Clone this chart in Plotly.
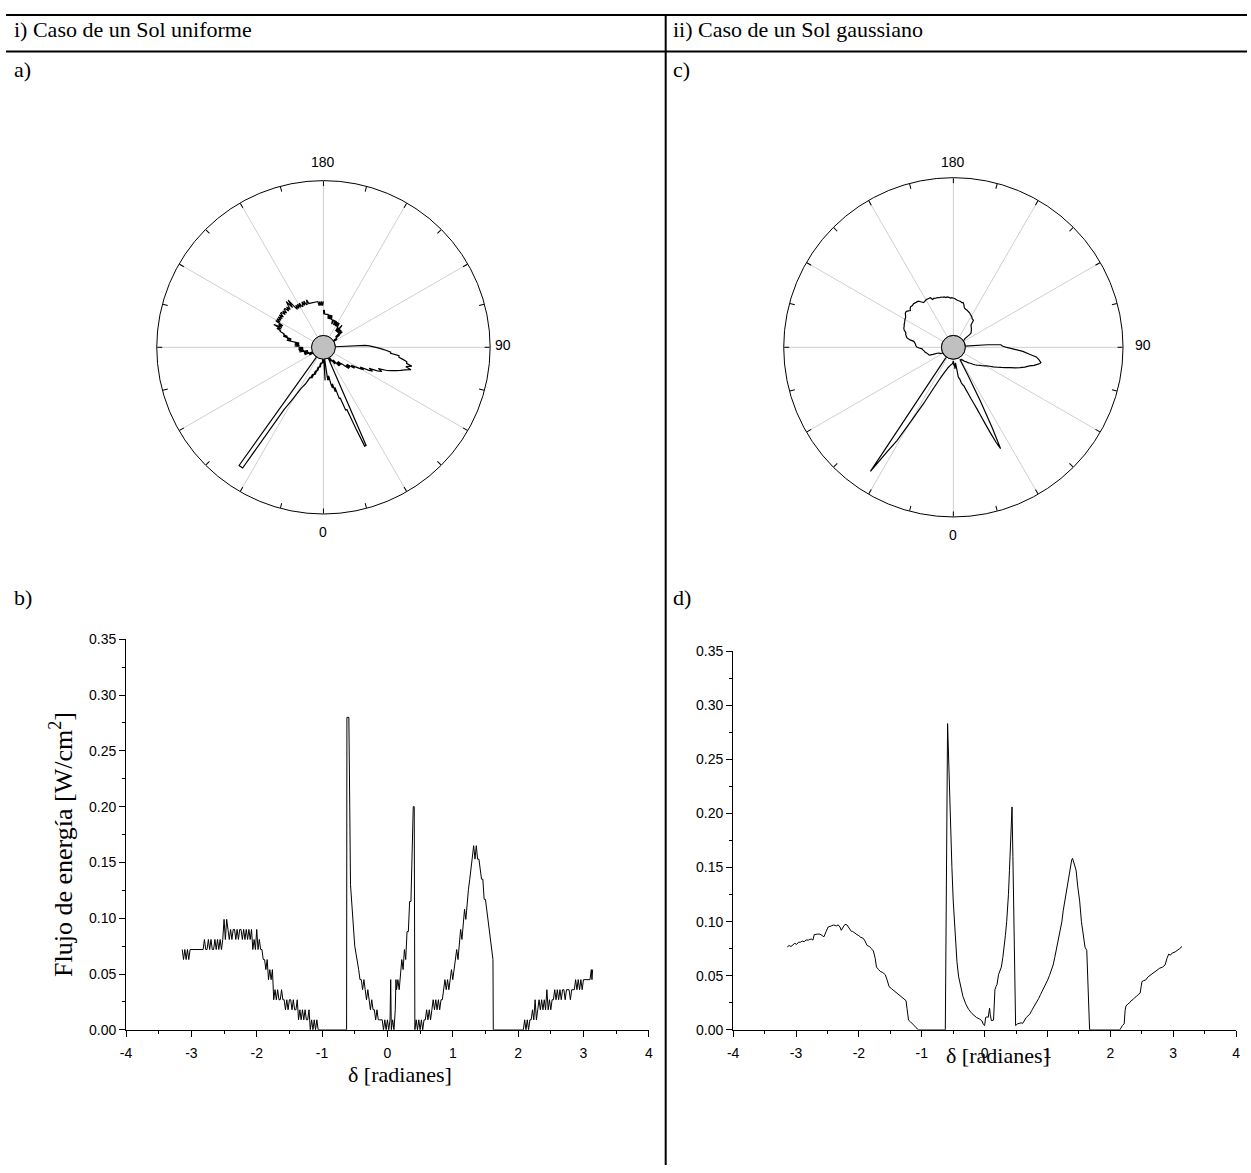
import plotly.graph_objects as go

W, H = 1251, 1173
SERIF = "Liberation Serif, Times New Roman, serif"
SANS = "Liberation Sans, Arial, sans-serif"

# Energy flux vs. angle delta [rad] -- uniform Sun (ray counting, quantised levels)
DELTA_UNIFORM = [
    -3.14, -3.12, -3.10, -3.08, -3.06, -3.04, -3.02,
    -3.00, -2.86,
    -2.84, -2.82, -2.80, -2.78, -2.76, -2.74, -2.72, -2.70, -2.68, -2.66, -2.64, -2.62, -2.60, -2.58, -2.56, -2.54, -2.52,
    -2.50, -2.48, -2.46, -2.44, -2.42, -2.40, -2.38, -2.36, -2.34, -2.32, -2.30, -2.28, -2.26, -2.24, -2.22, -2.20, -2.18, -2.16, -2.14, -2.12, -2.10,
    -2.08, -2.06, -2.04, -2.02, -2.00, -1.98, -1.96, -1.94, -1.92,
    -1.90, -1.88, -1.86, -1.84,
    -1.82, -1.80, -1.78, -1.76,
    -1.74, -1.72, -1.70, -1.68, -1.66, -1.64, -1.62, -1.60, -1.58,
    -1.56, -1.54, -1.52, -1.50, -1.48, -1.46, -1.44, -1.42, -1.40, -1.38,
    -1.36, -1.34, -1.32, -1.30, -1.28, -1.26, -1.24, -1.22, -1.20,
    -1.18, -1.16, -1.14, -1.12, -1.10, -1.08, -1.06,
    -0.90, -0.75, -0.625,
    -0.62, -0.59, -0.565, -0.54, -0.52, -0.50, -0.48, -0.46, -0.44, -0.42, -0.40, -0.38, -0.36, -0.34, -0.32, -0.30,
    -0.28, -0.26, -0.24, -0.22, -0.20, -0.18, -0.16, -0.14, -0.12, -0.10, -0.08, -0.06, -0.04, -0.02,
    0.00, 0.02, 0.04, 0.05, 0.06, 0.08, 0.10, 0.12, 0.13, 0.14, 0.16, 0.18, 0.20, 0.22, 0.24, 0.26, 0.28,
    0.30, 0.32, 0.34, 0.36, 0.38, 0.395, 0.41, 0.42,
    0.44, 0.46, 0.48, 0.50, 0.52, 0.54, 0.56, 0.58,
    0.60, 0.62, 0.64, 0.66, 0.68,
    0.70, 0.72, 0.74, 0.76, 0.78, 0.80, 0.82, 0.84,
    0.86, 0.88, 0.90, 0.92, 0.94, 0.96,
    0.98, 1.00, 1.02, 1.04, 1.06, 1.08,
    1.10, 1.12, 1.14, 1.16, 1.18, 1.20, 1.22, 1.24, 1.26, 1.28,
    1.30, 1.32, 1.34, 1.36, 1.38, 1.40, 1.42, 1.44, 1.46, 1.48, 1.50, 1.52,
    1.54, 1.56, 1.58, 1.60, 1.615, 1.62,
    1.85, 2.08,
    2.10, 2.12, 2.14, 2.16, 2.18, 2.20,
    2.22, 2.24, 2.26, 2.28, 2.30, 2.32, 2.34,
    2.36, 2.38, 2.40, 2.42, 2.44, 2.46, 2.48, 2.50, 2.52, 2.54, 2.56,
    2.58, 2.60, 2.62, 2.64, 2.66, 2.68, 2.70, 2.72, 2.74, 2.76, 2.78, 2.80, 2.82, 2.84, 2.86,
    2.88, 2.90, 2.92, 2.94, 2.96, 2.98, 3.00, 3.02, 3.04,
    3.06, 3.08, 3.10, 3.12, 3.13, 3.14,
]
FLUX_UNIFORM = [
    0.072, 0.063, 0.072, 0.063, 0.072, 0.063, 0.072,
    0.072, 0.072,
    0.072, 0.072, 0.081, 0.072, 0.072, 0.081, 0.072, 0.081, 0.072, 0.072, 0.081, 0.072, 0.081, 0.072, 0.081, 0.072, 0.081,
    0.099, 0.081, 0.099, 0.090, 0.081, 0.090, 0.081, 0.090, 0.090, 0.081, 0.090, 0.081, 0.090, 0.090, 0.081, 0.090, 0.081, 0.090, 0.081, 0.090, 0.081,
    0.090, 0.072, 0.081, 0.072, 0.090, 0.072, 0.081, 0.072, 0.072,
    0.063, 0.063, 0.054, 0.063,
    0.045, 0.054, 0.045, 0.054,
    0.027, 0.036, 0.027, 0.036, 0.027, 0.027, 0.036, 0.027, 0.027,
    0.018, 0.027, 0.018, 0.027, 0.027, 0.018, 0.027, 0.018, 0.018, 0.027,
    0.009, 0.018, 0.009, 0.018, 0.009, 0.018, 0.009, 0.009, 0.018,
    0.000, 0.009, 0.000, 0.009, 0.000, 0.009, 0.000,
    0.000, 0.000, 0.000,
    0.280, 0.280, 0.130, 0.105, 0.088, 0.075, 0.068, 0.062, 0.054, 0.045, 0.045, 0.036, 0.045, 0.036, 0.027, 0.036,
    0.027, 0.018, 0.027, 0.018, 0.018, 0.009, 0.018, 0.009, 0.009, 0.009, 0.009, 0.000, 0.009, 0.000,
    0.009, 0.000, 0.009, 0.045, 0.000, 0.009, 0.000, 0.018, 0.045, 0.036, 0.045, 0.036, 0.054, 0.063, 0.054, 0.072, 0.063,
    0.088, 0.088, 0.115, 0.115, 0.160, 0.200, 0.200, 0.000,
    0.009, 0.000, 0.009, 0.000, 0.009, 0.000, 0.009, 0.009,
    0.018, 0.009, 0.018, 0.009, 0.018,
    0.027, 0.018, 0.027, 0.018, 0.027, 0.018, 0.027, 0.027,
    0.036, 0.045, 0.036, 0.045, 0.036, 0.045,
    0.054, 0.045, 0.054, 0.063, 0.072, 0.063,
    0.081, 0.090, 0.081, 0.099, 0.108, 0.099, 0.117, 0.126, 0.135, 0.144,
    0.153, 0.165, 0.153, 0.165, 0.153, 0.153, 0.144, 0.135, 0.135, 0.117, 0.117, 0.108,
    0.099, 0.090, 0.081, 0.072, 0.063, 0.000,
    0.000, 0.000,
    0.009, 0.000, 0.009, 0.000, 0.009, 0.009,
    0.018, 0.009, 0.027, 0.009, 0.018, 0.027, 0.018,
    0.027, 0.018, 0.027, 0.018, 0.036, 0.018, 0.027, 0.018, 0.027, 0.027, 0.036,
    0.027, 0.036, 0.027, 0.036, 0.027, 0.036, 0.036, 0.027, 0.036, 0.036, 0.036, 0.027, 0.036, 0.036, 0.036,
    0.045, 0.036, 0.045, 0.036, 0.045, 0.036, 0.045, 0.045, 0.045,
    0.045, 0.045, 0.045, 0.054, 0.045, 0.054,
]

# Energy flux vs. angle delta [rad] -- Gaussian Sun
DELTA_GAUSS = [
    -3.14, -3.11, -3.08, -3.05, -3.02, -2.99, -2.96, -2.93, -2.90, -2.87, -2.84, -2.80, -2.76, -2.73,
    -2.71, -2.66, -2.62, -2.58, -2.555, -2.52, -2.49, -2.44, -2.40, -2.36, -2.33, -2.30, -2.28, -2.25,
    -2.22, -2.19, -2.16, -2.12, -2.10, -2.06, -2.03, -2.00, -1.97, -1.94, -1.91, -1.87, -1.83, -1.80,
    -1.77, -1.74, -1.72, -1.69, -1.66, -1.62, -1.58, -1.55, -1.52, -1.48, -1.44, -1.40, -1.36, -1.32,
    -1.28, -1.25, -1.235, -1.21, -1.18, -1.15, -1.12, -1.09, -1.05, -0.80, -0.625,
    -0.589, -0.565, -0.544, -0.52, -0.50, -0.487, -0.459, -0.44, -0.413, -0.38, -0.345, -0.30, -0.255,
    -0.20, -0.16, -0.13, -0.08, -0.045, -0.02, 0.0, 0.017, 0.04, 0.057, 0.079, 0.09, 0.108, 0.142,
    0.164, 0.18, 0.198, 0.221, 0.245, 0.266, 0.29, 0.311, 0.33, 0.351, 0.366, 0.379, 0.395, 0.408,
    0.422, 0.436, 0.45, 0.465, 0.48, 0.493,
    0.521, 0.549, 0.58, 0.606, 0.635, 0.663, 0.69, 0.719, 0.75, 0.776, 0.80, 0.832, 0.86, 0.889,
    0.92, 0.946, 0.975, 1.002, 1.03, 1.059, 1.09, 1.116, 1.145, 1.172, 1.20, 1.229, 1.25, 1.274,
    1.30, 1.331, 1.35, 1.37, 1.385, 1.399, 1.413, 1.427, 1.455, 1.48, 1.512, 1.54, 1.568, 1.597,
    1.625, 1.645, 1.67, 1.90, 2.152,
    2.191, 2.22, 2.235, 2.248, 2.28, 2.305, 2.33, 2.361, 2.39, 2.418, 2.45, 2.474, 2.49, 2.503,
    2.53, 2.56, 2.60, 2.644, 2.67, 2.701, 2.74, 2.786, 2.83, 2.871, 2.90, 2.928, 2.955, 2.984,
    3.03, 3.069, 3.10, 3.14,
]
FLUX_GAUSS = [
    0.0765, 0.078, 0.077, 0.079, 0.080, 0.079, 0.081, 0.081, 0.082, 0.0815, 0.083, 0.083, 0.084, 0.083,
    0.088, 0.0885, 0.0885, 0.087, 0.086, 0.091, 0.095, 0.096, 0.097, 0.096, 0.097, 0.095, 0.092, 0.095,
    0.0975, 0.097, 0.094, 0.091, 0.091, 0.089, 0.088, 0.087, 0.0855, 0.085, 0.083, 0.078, 0.077, 0.075,
    0.073, 0.066, 0.058, 0.056, 0.054, 0.053, 0.051, 0.046, 0.040, 0.038, 0.036, 0.0345, 0.032, 0.030,
    0.0285, 0.027, 0.020, 0.009, 0.0075, 0.006, 0.004, 0.002, 0.0, 0.0, 0.0,
    0.283, 0.230, 0.200, 0.150, 0.120, 0.107, 0.076, 0.063, 0.049, 0.039, 0.031, 0.024, 0.019,
    0.015, 0.013, 0.0115, 0.010, 0.0085, 0.005, 0.004, 0.0115, 0.012, 0.0115, 0.020, 0.014, 0.0085, 0.009,
    0.037, 0.040, 0.042, 0.051, 0.055, 0.058, 0.067, 0.076, 0.087, 0.100, 0.112, 0.125, 0.147, 0.167,
    0.190, 0.206, 0.160, 0.100, 0.040, 0.004,
    0.0055, 0.006, 0.0065, 0.006, 0.009, 0.0115, 0.013, 0.0145, 0.018, 0.0205, 0.022, 0.025, 0.029, 0.0326,
    0.036, 0.0387, 0.042, 0.046, 0.050, 0.054, 0.060, 0.067, 0.075, 0.0825, 0.091, 0.100, 0.110, 0.119,
    0.128, 0.137, 0.146, 0.152, 0.157, 0.1585, 0.156, 0.1535, 0.1475, 0.133, 0.119, 0.100, 0.0855, 0.0765,
    0.0734, 0.046, 0.0, 0.0, 0.0,
    0.004, 0.0055, 0.018, 0.022, 0.024, 0.025, 0.027, 0.028, 0.030, 0.031, 0.033, 0.034, 0.040, 0.0447,
    0.0455, 0.046, 0.049, 0.051, 0.052, 0.054, 0.055, 0.057, 0.058, 0.060, 0.066, 0.070, 0.069, 0.071,
    0.072, 0.0734, 0.075, 0.077,
]

X_TICKS = [-4, -3, -2, -1, 0, 1, 2, 3, 4]
Y_TICKS = [0.00, 0.05, 0.10, 0.15, 0.20, 0.25, 0.30, 0.35]
ANGLE_TICKS = list(range(0, 360, 15))
SPOKE_ANGLES = list(range(0, 360, 30))
R_MAX = 0.325

HEADERS = ["i) Caso de un Sol uniforme", "ii) Caso de un Sol gaussiano"]
LETTERS = ["a)", "b)", "c)", "d)"]
ANGLE_TEXT = ["180", "90", "0"]
X_TITLE = "δ [radianes]"
Y_TITLE = "Flujo de energía [W/cm<sup>2</sup>]"


def fx(px):
    return px / W


def fy(py):
    return 1 - py / H


fig = go.Figure()

# ---- polar panels (a: uniform, c: gaussian) ----
polar_specs = [
    ("polar", 320, 344, 169, DELTA_UNIFORM, FLUX_UNIFORM),
    ("polar2", 955, 344, 172, DELTA_GAUSS, FLUX_GAUSS),
]
for name, cx, cy, rad, dvals, fvals in polar_specs:
    for ang in SPOKE_ANGLES:
        fig.add_trace(go.Scatterpolar(
            r=[0, R_MAX], theta=[ang, ang], mode="lines",
            line=dict(color="#cfcfcf", width=1), subplot=name,
            showlegend=False, hoverinfo="skip"))
    fig.add_trace(go.Scatterpolar(
        r=fvals, theta=dvals, thetaunit="radians", mode="lines",
        line=dict(color="black", width=1.2), subplot=name, showlegend=False))
    fig.add_shape(type="circle", xref="paper", yref="paper",
                  x0=fx(cx - 12), x1=fx(cx + 12), y0=fy(cy + 12), y1=fy(cy - 12),
                  fillcolor="#c0c0c0", line=dict(color="black", width=1), layer="above")

angular_common = dict(
    rotation=-90, direction="counterclockwise",
    tickmode="array", tickvals=ANGLE_TICKS, showticklabels=False,
    ticks="inside", ticklen=5, tickcolor="black", tickwidth=1,
    showgrid=False, showline=True, linecolor="black", linewidth=1,
)
radial_common = dict(range=[0, R_MAX], visible=False, showgrid=False)

for name, cx, cy, rad, _, _ in polar_specs:
    fig.layout[name] = dict(
        domain=dict(x=[fx(cx - rad), fx(cx + rad)], y=[fy(cy + rad), fy(cy - rad)]),
        hole=0.07, bgcolor="white",
        angularaxis=angular_common, radialaxis=radial_common)

# ---- cartesian panels (b: uniform, d: gaussian) ----
fig.add_trace(go.Scatter(x=DELTA_UNIFORM, y=FLUX_UNIFORM, mode="lines",
                         line=dict(color="black", width=1), xaxis="x", yaxis="y",
                         showlegend=False))
fig.add_trace(go.Scatter(x=DELTA_GAUSS, y=FLUX_GAUSS, mode="lines",
                         line=dict(color="black", width=1), xaxis="x2", yaxis="y2",
                         showlegend=False))

xcommon = dict(range=[-4, 4], tickmode="array", tickvals=X_TICKS,
               ticktext=[str(v) for v in X_TICKS],
               ticks="outside", ticklen=6, tickwidth=1, tickcolor="black",
               ticklabelstandoff=4,
               minor=dict(tickmode="array", tickvals=[v + 0.5 for v in X_TICKS[:-1]],
                          ticks="outside", ticklen=3, tickcolor="black", showgrid=False),
               showline=True, linecolor="black", linewidth=1,
               showgrid=False, zeroline=False, fixedrange=True,
               tickfont=dict(family=SANS, size=14, color="black"))
ycommon = dict(range=[0, 0.35], tickmode="array", tickvals=Y_TICKS,
               ticktext=[f"{v:.2f}" for v in Y_TICKS],
               ticks="outside", ticklen=6, tickwidth=1, tickcolor="black",
               minor=dict(tickmode="array", tickvals=[v + 0.025 for v in Y_TICKS[:-1]],
                          ticks="outside", ticklen=3, tickcolor="black", showgrid=False),
               showline=True, linecolor="black", linewidth=1,
               showgrid=False, zeroline=False, fixedrange=True,
               tickfont=dict(family=SANS, size=14, color="black"))

fig.update_layout(
    xaxis=dict(domain=[fx(121), fx(648)], anchor="y", **xcommon),
    yaxis=dict(domain=[fy(1036), fy(640)], anchor="x", **ycommon),
    xaxis2=dict(domain=[fx(733), fx(1240)], anchor="y2", **xcommon),
    yaxis2=dict(domain=[fy(1036), fy(652)], anchor="x2", **ycommon),
)

# ---- table rules ----
for y0 in (7, 44):
    fig.add_shape(type="line", xref="paper", yref="paper", x0=0, x1=1, y0=fy(y0), y1=fy(y0),
                  line=dict(color="black", width=2))
fig.add_shape(type="line", xref="paper", yref="paper", x0=fx(665), x1=fx(665), y0=fy(7), y1=0,
              line=dict(color="black", width=2))


# ---- texts ----
def text(x, y, s, size=22, family=SERIF, xanchor="left", angle=0):
    fig.add_annotation(x=fx(x), y=fy(y), xref="paper", yref="paper", text=s,
                       showarrow=False, xanchor=xanchor, yanchor="middle", textangle=angle,
                       font=dict(family=family, size=size, color="black"))


text(6, 22, HEADERS[0])
text(670, 22, HEADERS[1])
text(6, 62, LETTERS[0])
text(6, 598, LETTERS[1])
text(670, 62, LETTERS[2])
text(670, 598, LETTERS[3])

# angular labels of the two polar panels
for cx, top, right, bottom in ((320, 156, 501, 531), (955, 156, 1146, 534)):
    text(cx, top, ANGLE_TEXT[0], size=14, family=SANS, xanchor="center")
    text(right, 342, ANGLE_TEXT[1], size=14, family=SANS, xanchor="center")
    text(cx, bottom, ANGLE_TEXT[2], size=14, family=SANS, xanchor="center")

text(397, 1081, X_TITLE, size=22, xanchor="center")
text(1000, 1062, X_TITLE, size=22, xanchor="center")
text(56, 848, Y_TITLE, size=26, xanchor="center", angle=-90)

fig.update_layout(
    width=W, height=H, margin=dict(l=0, r=0, t=0, b=0),
    paper_bgcolor="white", plot_bgcolor="white", showlegend=False,
)

fig.write_html("out.html", config={"displayModeBar": False},
               post_script="document.body.style.margin='0';")
